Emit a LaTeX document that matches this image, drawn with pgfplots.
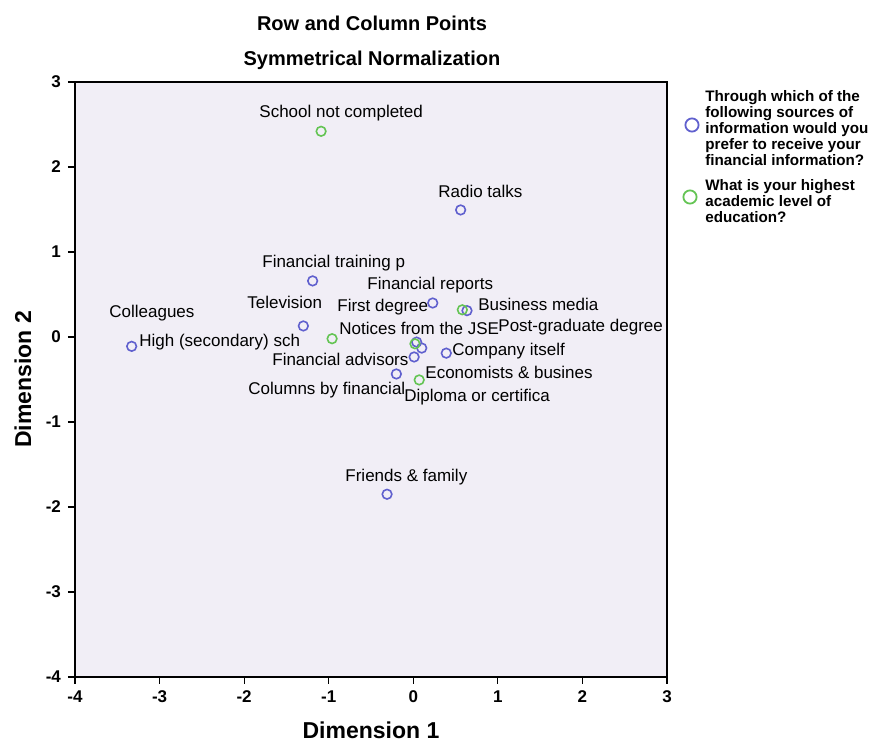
\documentclass[border=0pt]{standalone}
\usepackage{pgfplots}
\pgfplotsset{compat=1.18}
\usepackage{fontspec}
\setmainfont{Liberation Sans}
\definecolor{bgcol}{RGB}{241,238,246}
\definecolor{ptblue}{RGB}{96,96,206}
\definecolor{ptgreen}{RGB}{100,196,84}
\begin{document}
\begin{tikzpicture}
\useasboundingbox (-37.5pt,-33pt) rectangle (400pt,338.5pt);
\begin{axis}[
  at={(0pt,0pt)}, anchor=south west, scale only axis,
  width=296pt, height=297.5pt,
  xmin=-4, xmax=3, ymin=-4, ymax=3,
  xtick={-4,-3,-2,-1,0,1,2,3}, ytick={-4,-3,-2,-1,0,1,2,3},
  xticklabels={-4,-3,-2,-1,0,1,2,3}, yticklabels={-4,-3,-2,-1,0,1,2,3},
  axis background/.style={fill=bgcol},
  axis line style={line width=0.9pt},
  tick align=outside, tick pos=left,
  major tick length=3.5pt, tick style={black, line width=0.6pt},
  ticklabel style={font=\fontsize{8.5}{9}\selectfont\bfseries},
  clip=false,
]
\addplot[only marks, mark=o, mark size=2.4pt, line width=0.8pt, ptblue] coordinates {
  (0.56,1.495) (-1.19,0.66) (0.23,0.40) (0.635,0.31) (-1.30,0.13) (-3.33,-0.11)
  (0.04,-0.06) (0.10,-0.13) (0.01,-0.235) (0.39,-0.19) (-0.20,-0.435) (-0.31,-1.85)
};
\addplot[only marks, mark=o, mark size=2.4pt, line width=0.8pt, ptgreen] coordinates {
  (-1.09,2.42) (0.58,0.32) (-0.96,-0.02) (0.02,-0.08) (0.07,-0.505)
};
\begin{scope}[every node/.style={anchor=west, inner sep=0pt, font=\fontsize{8.5}{10}\selectfont}]
\node at (axis cs:-1.824,2.635) {School not completed};
\node at (axis cs:0.292,1.718) {Radio talks};
\node at (axis cs:-1.789,0.871) {Financial training p};
\node at (axis cs:-0.547,0.612) {Financial reports};
\node at (axis cs:-0.902,0.353) {First degree};
\node at (axis cs:0.765,0.388) {Business media};
\node at (axis cs:-1.966,0.412) {Television};
\node at (axis cs:-3.598,0.282) {Colleagues};
\node at (axis cs:-0.878,0.106) {Notices from the JSE};
\node at (axis cs:1.002,0.118) {Post-graduate degree};
\node at (axis cs:-3.243,-0.059) {High (secondary) sch};
\node at (axis cs:0.458,-0.165) {Company itself};
\node at (axis cs:-1.671,-0.259) {Financial advisors};
\node at (axis cs:0.139,-0.412) {Economists \& busines};
\node at (axis cs:-1.954,-0.624) {Columns by financial};
\node at (axis cs:-0.110,-0.706) {Diploma or certifica};
\node at (axis cs:-0.807,-1.647) {Friends \& family};
\end{scope}
\end{axis}
% legend
\draw[ptblue, line width=0.9pt] (308.5pt,276pt) circle (3.3pt);
\node[anchor=west, inner sep=0pt, align=left, font=\fontsize{7.6}{8}\selectfont\bfseries]
  at (315pt,274.5pt) {Through which of the\\following sources of\\information would you\\prefer to receive your\\financial information?};
\draw[ptgreen, line width=0.9pt] (307.5pt,240pt) circle (3.3pt);
\node[anchor=west, inner sep=0pt, align=left, font=\fontsize{7.6}{8}\selectfont\bfseries]
  at (315pt,238pt) {What is your highest\\academic level of\\education?};
% titles and axis labels
\node[font=\fontsize{10}{12}\selectfont\bfseries] at (148.5pt,327pt) {Row and Column Points};
\node[font=\fontsize{10}{12}\selectfont\bfseries] at (148.5pt,308.5pt) {Symmetrical Normalization};
\node[font=\fontsize{11.5}{13}\selectfont\bfseries] at (148pt,-26.5pt) {Dimension 1};
\node[font=\fontsize{11.5}{13}\selectfont\bfseries, rotate=90] at (-26pt,148.75pt) {Dimension 2};
\end{tikzpicture}
\end{document}
